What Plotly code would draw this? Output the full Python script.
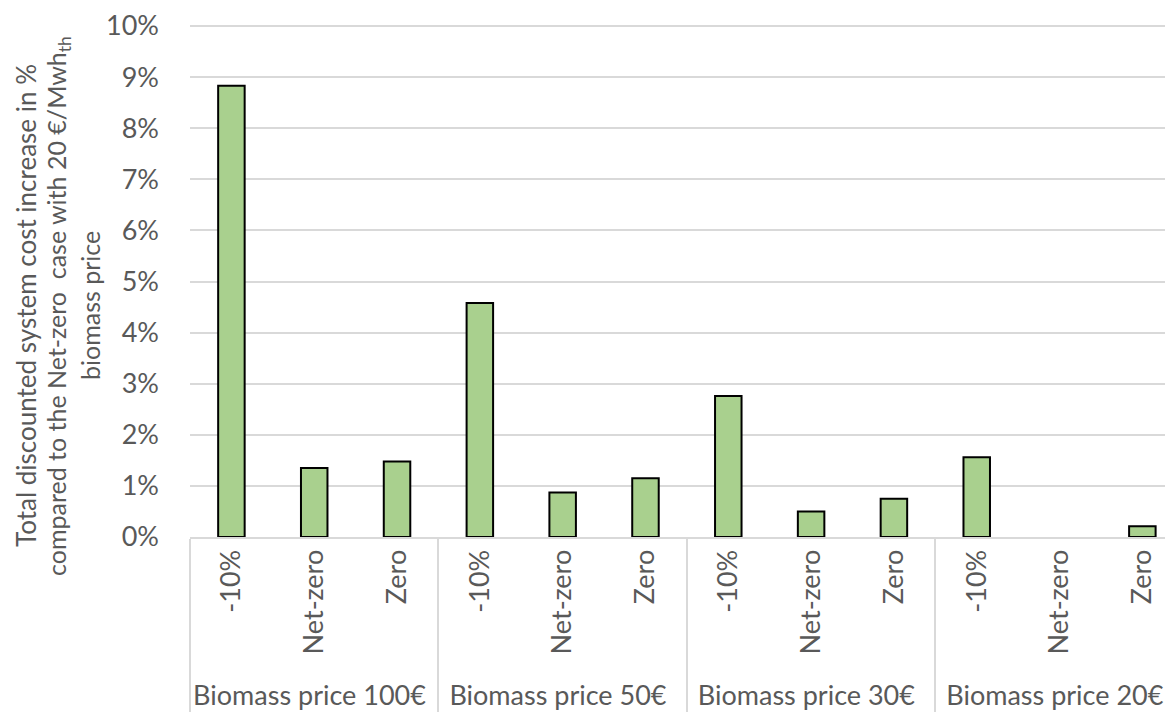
import plotly.graph_objects as go

groups = ["Biomass price 100€"] * 3 + ["Biomass price 50€"] * 3 + ["Biomass price 30€"] * 3 + ["Biomass price 20€"] * 3
scenarios = ["-10%", "Net-zero", "Zero"] * 4
values = [8.83, 1.35, 1.48, 4.58, 0.87, 1.15, 2.76, 0.50, 0.75, 1.56, 0.0, 0.21]
y_ticks = [0, 1, 2, 3, 4, 5, 6, 7, 8, 9, 10]
y_tick_labels = ["0%", "1%", "2%", "3%", "4%", "5%", "6%", "7%", "8%", "9%", "10%"]
title_lines = [
    "Total discounted system cost increase in %",
    "compared to the Net-zero  case with 20 €/Mwh<sub>th</sub>",
    "biomass price",
]

FONT = "Lato"
GRAY = "#595959"
GRID = "#d9d9d9"

# page body has an 8px margin; compensate so the plot lands where the reference has it
L, T, R, B = 182, 17, 8, 191
W, H = 1173, 720
PW = W - L - R
PH = H - T - B

fig = go.Figure()
fig.add_trace(go.Bar(
    x=[groups, scenarios],
    y=values,
    width=0.32,
    marker=dict(
        color="#a9d08e",
        line=dict(color="#000000", width=[2 if v > 0 else 0 for v in values]),
    ),
    hoverinfo="skip",
))

fig.update_layout(
    width=W, height=H,
    margin=dict(l=L, r=R, t=T, b=B, autoexpand=False),
    paper_bgcolor="white", plot_bgcolor="white",
    showlegend=False,
    font=dict(family=FONT, color=GRAY),
)

fig.update_xaxes(
    type="multicategory",
    range=[-0.5, 11.37],
    tickangle=-90,
    tickfont=dict(family=FONT, size=27, color=GRAY),
    showdividers=True, dividercolor=GRID, dividerwidth=2,
    showline=True, linecolor=GRID, linewidth=2,
    showgrid=False,
)
fig.update_yaxes(
    range=[0, 10.02],
    tickmode="array",
    tickvals=y_ticks,
    ticktext=y_tick_labels,
    tickfont=dict(family=FONT, size=27, color=GRAY),
    ticklabelstandoff=30,
    ticklabeloverflow="allow",
    showgrid=True, gridcolor=GRID, gridwidth=2,
    zeroline=False, showline=False,
)

xs = [26 - 8, 58 - 8, 90 - 8]
yc = 306 - 8
sizes = [26, 25, 25]
for txt, xp, fs in zip(title_lines, xs, sizes):
    fig.add_annotation(
        text=txt, textangle=-90,
        xref="paper", yref="paper",
        x=(xp - L) / PW, y=(H - B - yc) / PH,
        xanchor="center", yanchor="middle",
        showarrow=False,
        font=dict(family=FONT, size=fs, color=GRAY),
    )

fig.write_html("out.html")
